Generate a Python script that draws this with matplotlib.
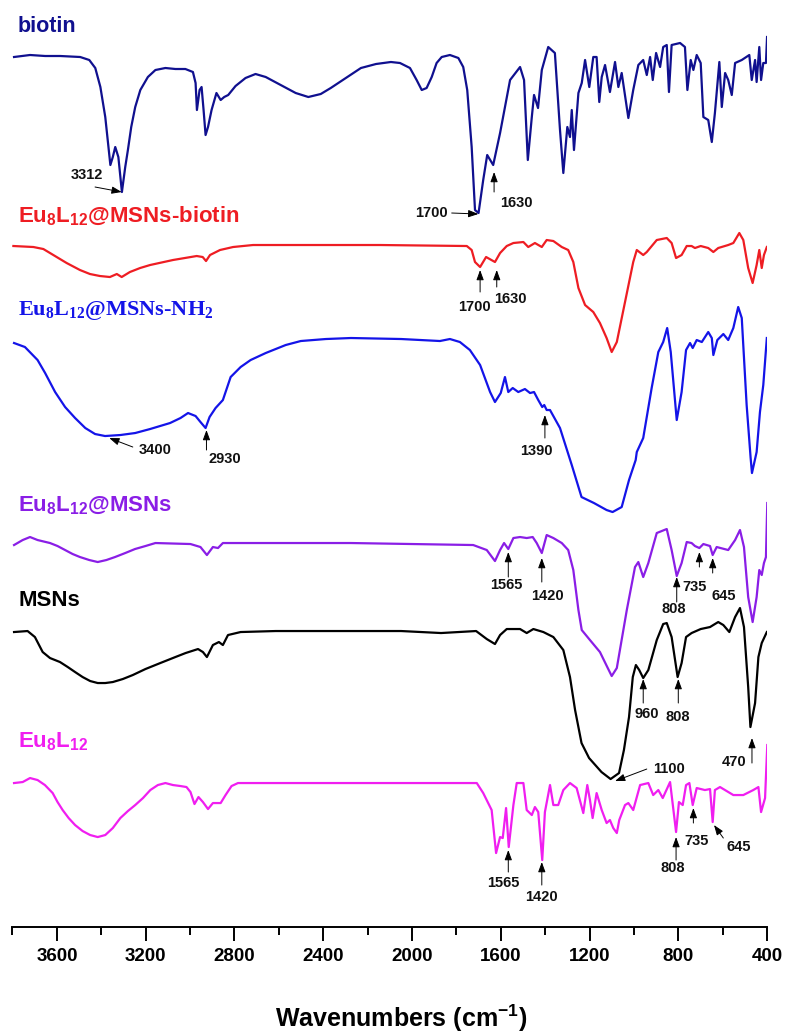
import matplotlib
matplotlib.use('Agg')
import matplotlib.pyplot as plt
from matplotlib.ticker import MultipleLocator

plt.rcParams['font.family'] = ['Liberation Sans', 'DejaVu Sans']
plt.rcParams['font.weight'] = 'bold'
plt.rcParams['mathtext.default'] = 'regular'

# FTIR spectra: wavenumber (cm-1) and stacked transmittance (a.u.)
biotin_wn = [3793, 3721, 3653, 3585, 3495, 3454, 3427, 3404, 3382, 3371,
             3359, 3348, 3337, 3323, 3307, 3292, 3280, 3265, 3247, 3224,
             3190, 3156, 3111, 3066, 3021, 2987, 2975, 2969, 2957, 2948,
             2939, 2930, 2919, 2903, 2881, 2862, 2846, 2828, 2795, 2750,
             2705, 2659, 2592, 2524, 2467, 2411, 2366, 2298, 2230, 2162,
             2095, 2054, 2009, 1979, 1956, 1934, 1911, 1889, 1866, 1829,
             1791, 1769, 1751, 1731, 1716, 1700, 1679, 1661, 1634, 1603,
             1558, 1513, 1495, 1478, 1460, 1450, 1432, 1415, 1386, 1356,
             1333, 1318, 1300, 1288, 1280, 1270, 1250, 1235, 1220, 1201,
             1183, 1168, 1156, 1145, 1130, 1108, 1085, 1070, 1055, 1025,
             1003, 980, 958, 942, 927, 915, 900, 882, 868, 852,
             842, 830, 792, 770, 759, 744, 732, 717, 699, 687,
             665, 649, 635, 615, 604, 589, 575, 559, 544, 514,
             480, 469, 454, 447, 435, 427, 417, 405, 400]
biotin_t = [94.3, 94.5, 94.4, 94.4, 94.3, 94.0, 93.2, 91.3, 88.3, 86.0,
            83.5, 84.3, 85.3, 84.3, 80.8, 83.3, 85.0, 87.3, 89.3, 91.0,
            92.3, 93.0, 93.2, 93.1, 93.1, 92.8, 91.7, 89.0, 91.0, 91.3,
            89.0, 86.5, 87.3, 89.0, 90.7, 90.0, 90.3, 90.5, 91.4, 92.2,
            92.6, 92.3, 91.5, 90.7, 90.3, 90.6, 91.2, 92.2, 93.2, 93.6,
            93.8, 93.7, 93.2, 92.0, 91.0, 91.2, 92.3, 93.7, 94.3, 94.5,
            94.2, 93.3, 91.0, 85.3, 79.0, 78.7, 82.0, 84.5, 83.5, 86.7,
            92.0, 93.3, 92.0, 84.0, 88.3, 90.5, 89.2, 93.0, 95.3, 94.7,
            87.0, 82.7, 87.3, 86.3, 89.0, 85.0, 90.7, 91.7, 94.0, 91.3,
            94.3, 94.3, 89.8, 92.3, 93.5, 90.8, 93.8, 91.3, 92.7, 88.2,
            91.0, 93.5, 94.0, 92.5, 94.3, 92.0, 94.7, 93.3, 95.3, 95.5,
            90.8, 95.5, 95.7, 95.3, 91.0, 94.0, 93.0, 94.5, 93.7, 88.3,
            88.0, 85.8, 88.7, 93.8, 89.3, 92.7, 92.0, 90.5, 93.7, 94.0,
            94.5, 92.0, 94.0, 91.8, 95.3, 92.0, 93.7, 93.7, 96.3]

eu_biotin_wn = [3796, 3706, 3661, 3616, 3556, 3496, 3451, 3406, 3361, 3330,
                3308, 3271, 3225, 3180, 3077, 2970, 2943, 2928, 2910, 2865,
                2806, 2716, 2144, 1753, 1731, 1716, 1693, 1666, 1626, 1603,
                1573, 1543, 1498, 1476, 1446, 1415, 1393, 1363, 1325, 1296,
                1273, 1250, 1220, 1183, 1153, 1123, 1100, 1077, 1040, 1003,
                987, 958, 942, 897, 852, 830, 810, 785, 762, 740,
                725, 699, 665, 642, 620, 575, 552, 525, 507, 485,
                465, 447, 435, 424, 414, 401]
eu_biotin_t = [75.4, 75.3, 75.1, 74.5, 73.7, 73.0, 72.6, 72.4, 72.3, 72.6,
               72.3, 72.8, 73.2, 73.5, 74.0, 74.4, 74.3, 73.9, 74.5, 75.0,
               75.3, 75.5, 75.5, 75.4, 75.0, 73.8, 73.3, 74.3, 73.8, 74.7,
               75.4, 75.7, 75.8, 75.3, 75.7, 75.3, 76.0, 75.9, 75.3, 75.0,
               73.8, 71.2, 69.5, 68.8, 67.7, 66.2, 64.8, 65.8, 69.8, 73.8,
               75.0, 74.5, 74.8, 76.0, 76.2, 75.7, 74.2, 74.5, 75.4, 75.4,
               75.2, 75.4, 75.2, 74.8, 75.2, 75.5, 75.7, 76.7, 76.0, 73.2,
               71.7, 73.5, 75.0, 73.2, 74.5, 75.3]

eu_nh2_wn = [3793, 3744, 3687, 3653, 3608, 3563, 3518, 3472, 3428, 3383,
             3314, 3247, 3180, 3090, 3043, 3009, 2975, 2953, 2930, 2912,
             2885, 2852, 2817, 2772, 2727, 2659, 2569, 2501, 2388, 2275,
             2049, 1874, 1829, 1784, 1739, 1693, 1648, 1626, 1600, 1581,
             1566, 1546, 1521, 1491, 1468, 1450, 1431, 1413, 1404, 1393,
             1378, 1333, 1280, 1236, 1180, 1123, 1096, 1055, 1022, 992,
             987, 958, 920, 890, 868, 850, 834, 807, 785, 765,
             747, 735, 717, 694, 665, 649, 642, 624, 597, 575,
             552, 530, 514, 492, 474, 468, 447, 432, 417, 401]
eu_nh2_t = [65.7, 65.3, 64.0, 62.7, 60.8, 59.3, 58.2, 57.2, 56.6, 56.4,
            56.5, 56.7, 57.1, 57.7, 58.2, 58.7, 58.4, 57.8, 57.2, 58.3,
            59.2, 60.0, 62.3, 63.3, 64.0, 64.7, 65.5, 65.9, 66.1, 66.2,
            66.1, 65.9, 66.1, 65.8, 65.0, 63.5, 60.8, 59.8, 60.7, 62.3,
            60.8, 61.2, 60.8, 61.1, 60.7, 60.8, 60.0, 59.3, 59.5, 59.0,
            59.0, 57.2, 53.5, 50.3, 49.7, 49.0, 48.8, 49.3, 52.0, 54.0,
            54.8, 56.2, 61.2, 64.8, 65.8, 67.2, 64.8, 58.0, 60.8, 65.0,
            65.7, 65.2, 66.0, 65.8, 66.8, 66.2, 64.5, 66.0, 66.6, 66.0,
            67.2, 69.3, 68.2, 59.5, 54.2, 52.7, 54.8, 58.8, 61.5, 66.2]

eu_msn_wn = [3793, 3754, 3721, 3687, 3631, 3597, 3563, 3529, 3496, 3454,
             3416, 3377, 3338, 3292, 3248, 3201, 3156, 2998, 2953, 2924,
             2897, 2874, 2852, 2275, 1724, 1663, 1626, 1603, 1585, 1566,
             1543, 1513, 1483, 1456, 1438, 1415, 1393, 1363, 1325, 1296,
             1273, 1250, 1235, 1198, 1153, 1120, 1100, 1077, 1032, 995,
             980, 958, 935, 897, 852, 830, 807, 785, 762, 740,
             725, 705, 687, 657, 645, 627, 575, 544, 522, 504,
             485, 465, 447, 435, 424, 414, 405, 399]
eu_msn_t = [45.5, 46.0, 46.3, 46.0, 45.7, 45.4, 45.0, 44.6, 44.3, 44.0,
            43.8, 44.0, 44.3, 44.7, 45.1, 45.4, 45.7, 45.6, 45.3, 44.5,
            45.3, 45.2, 45.7, 45.7, 45.5, 45.0, 43.9, 45.0, 45.7, 45.1,
            46.2, 46.3, 46.2, 46.3, 45.7, 44.7, 46.5, 46.2, 45.7, 45.0,
            43.0, 39.0, 37.0, 36.0, 34.8, 33.3, 32.4, 33.2, 39.0, 43.3,
            43.8, 42.3, 43.7, 46.7, 47.1, 45.0, 42.4, 43.7, 45.8, 45.7,
            45.4, 45.2, 45.6, 45.4, 44.5, 45.3, 45.0, 46.0, 47.0, 45.3,
            40.3, 37.8, 40.3, 43.0, 42.5, 43.7, 44.3, 49.7]

msn_wn = [3793, 3732, 3699, 3664, 3631, 3586, 3551, 3518, 3484, 3450,
          3416, 3382, 3348, 3303, 3258, 3201, 3134, 3066, 3020, 2964,
          2942, 2924, 2897, 2870, 2852, 2829, 2772, 2614, 2366, 2049,
          1869, 1711, 1663, 1626, 1603, 1573, 1513, 1483, 1453, 1408,
          1363, 1318, 1288, 1265, 1236, 1202, 1146, 1105, 1067, 1045,
          1022, 1005, 991, 976, 958, 935, 897, 868, 852, 830,
          803, 785, 765, 740, 699, 657, 635, 620, 597, 570,
          544, 522, 504, 485, 475, 454, 439, 424, 401]
msn_t = [36.8, 36.9, 36.3, 34.8, 34.2, 33.8, 33.3, 32.8, 32.3, 31.9,
         31.7, 31.7, 31.8, 32.1, 32.5, 33.1, 33.7, 34.3, 34.7, 35.1,
         34.8, 34.3, 35.5, 35.8, 35.5, 36.5, 36.8, 36.9, 36.9, 36.9,
         36.7, 36.9, 36.1, 35.6, 36.5, 37.1, 37.1, 36.7, 37.1, 36.8,
         36.3, 35.0, 32.3, 29.0, 25.7, 24.2, 22.8, 22.1, 22.7, 25.0,
         28.3, 32.3, 33.5, 33.0, 32.2, 33.0, 36.0, 37.6, 37.7, 36.3,
         32.3, 33.7, 36.3, 36.7, 37.1, 37.3, 37.6, 37.8, 37.5, 36.8,
         38.3, 39.2, 37.3, 31.3, 27.3, 29.7, 34.3, 35.7, 36.8]

eu_wn = [3793, 3754, 3721, 3687, 3654, 3619, 3597, 3574, 3547, 3518,
         3484, 3450, 3416, 3382, 3348, 3314, 3280, 3247, 3212, 3179,
         3145, 3111, 3077, 3043, 3016, 2998, 2980, 2962, 2942, 2919,
         2897, 2862, 2840, 2813, 2784, 2366, 1734, 1708, 1679, 1641,
         1621, 1603, 1591, 1576, 1564, 1543, 1528, 1513, 1498, 1483,
         1460, 1446, 1431, 1413, 1401, 1378, 1363, 1341, 1318, 1288,
         1258, 1228, 1210, 1198, 1186, 1168, 1145, 1123, 1108, 1093,
         1077, 1066, 1040, 1025, 1003, 972, 935, 913, 890, 870,
         837, 810, 797, 780, 765, 750, 735, 717, 680, 657,
         645, 635, 612, 552, 507, 462, 439, 427, 409, 399]
eu_t = [21.7, 21.8, 22.2, 22.0, 21.5, 20.7, 19.8, 19.0, 18.2, 17.5,
        16.9, 16.5, 16.3, 16.5, 17.2, 18.2, 18.9, 19.5, 20.2, 21.0,
        21.5, 21.7, 21.5, 21.4, 21.3, 20.8, 19.6, 20.3, 19.8, 19.1,
        19.7, 19.7, 20.5, 21.4, 21.7, 21.7, 21.7, 21.7, 20.7, 19.0,
        14.7, 16.3, 16.2, 19.2, 15.3, 19.5, 21.7, 21.7, 21.7, 19.0,
        18.5, 19.3, 18.8, 14.0, 18.8, 21.5, 19.5, 19.5, 21.0, 21.7,
        21.2, 18.7, 21.5, 20.0, 18.2, 20.7, 19.0, 17.7, 18.0, 17.2,
        16.7, 18.0, 19.5, 19.7, 19.0, 21.5, 21.7, 20.5, 21.0, 20.2,
        21.8, 16.8, 19.8, 19.5, 21.5, 21.7, 19.5, 21.2, 21.0, 21.1,
        17.8, 21.0, 21.3, 20.5, 20.5, 21.0, 21.3, 18.8, 20.2, 25.5]

spectra = [
    (biotin_wn, biotin_t, '#10108f'),
    (eu_biotin_wn, eu_biotin_t, '#ee1d23'),
    (eu_nh2_wn, eu_nh2_t, '#1414e8'),
    (eu_msn_wn, eu_msn_t, '#8a1ee6'),
    (msn_wn, msn_t, 'black'),
    (eu_wn, eu_t, '#f01ef0'),
]

# sample names: text, x, y, colour, family, size
names = [
    ('biotin', 3775, 97.4, '#10108f', 'Liberation Sans', 15.5),
    ('Eu$_{8}$L$_{12}$@MSNs-biotin', 3775, 78.4, '#ee1d23', 'Liberation Sans', 16),
    ('Eu$_{8}$L$_{12}$@MSNs-NH$_{2}$', 3775, 69.0, '#1414e8', 'Liberation Serif', 16),
    ('Eu$_{8}$L$_{12}$@MSNs', 3775, 49.4, '#8a1ee6', 'Liberation Sans', 16),
    ('MSNs', 3775, 40.0, 'black', 'Liberation Sans', 16),
    ('Eu$_{8}$L$_{12}$', 3775, 25.8, '#f01ef0', 'Liberation Sans', 16),
]

# peak marks: label, arrow tip, arrow tail, label position, alignment
peaks = [
    ('3312', (3308, 80.8), (3428, 81.3), (3466, 82.5), 'center'),
    ('1700', (1701, 78.6), (1821, 78.7), (1914, 78.75), 'center'),
    ('1630', (1630, 82.8), (1630, 80.8), (1531, 79.75), 'center'),
    ('1700', (1693, 73.0), (1693, 70.8), (1719, 69.3), 'center'),
    ('1630', (1618, 73.0), (1618, 71.3), (1558, 70.1), 'center'),
    ('3400', (3364, 56.2), (3258, 55.3), (3156, 55.0), 'center'),
    ('2930', (2926, 57.0), (2926, 55.0), (2919, 54.1), 'left'),
    ('1390', (1401, 58.5), (1401, 56.2), (1438, 54.9), 'center'),
    ('1565', (1566, 44.8), (1566, 42.3), (1573, 41.5), 'center'),
    ('1420', (1415, 44.2), (1415, 41.8), (1388, 40.4), 'center'),
    ('808', (807, 42.3), (807, 39.8), (822, 39.1), 'center'),
    ('735', (705, 44.8), (705, 43.3), (725, 41.3), 'center'),
    ('645', (645, 44.2), (645, 42.7), (597, 40.4), 'center'),
    ('960', (958, 32.1), (958, 29.7), (942, 28.6), 'center'),
    ('808', (800, 32.1), (800, 29.7), (803, 28.3), 'center'),
    ('470', (468, 26.2), (468, 23.7), (495, 23.8), 'right'),
    ('1100', (1085, 21.9), (942, 23.1), (913, 23.1), 'left'),
    ('1565', (1566, 15.0), (1566, 12.8), (1588, 11.7), 'center'),
    ('1420', (1415, 13.8), (1415, 11.5), (1417, 10.3), 'center'),
    ('808', (810, 16.3), (810, 14.0), (825, 13.2), 'center'),
    ('735', (732, 19.2), (732, 17.7), (717, 15.9), 'center'),
    ('645', (639, 17.5), (597, 16.2), (529, 15.3), 'center'),
]

fig = plt.figure(figsize=(7.86, 10.35), dpi=100)
ax = fig.add_axes([0.0159, 0.1043, 0.96, 0.8957])

for wn, t, c in spectra:
    ax.plot(wn, t, color=c, lw=1.6, solid_joinstyle='round')

for text, x, y, c, fam, size in names:
    ax.text(x, y, text, color=c, fontsize=size, fontweight='bold',
            family=[fam, 'DejaVu Sans'], va='center', ha='left')

for lab, tip, tail, pos, ha in peaks:
    ax.annotate('', xy=tip, xytext=tail,
                arrowprops=dict(arrowstyle='-|>,head_length=0.6,head_width=0.22',
                                color='black', lw=0.7, mutation_scale=10,
                                shrinkA=0, shrinkB=0))
    ax.text(pos[0], pos[1], lab, fontsize=10.5, fontweight='bold',
            ha=ha, va='center', color='#111111')

ax.set_xlim(3800, 400)
ax.set_ylim(7.3, 100)
ax.xaxis.set_major_locator(MultipleLocator(400))
ax.xaxis.set_minor_locator(MultipleLocator(200))
ax.tick_params(axis='x', which='major', length=10, width=1.4, labelsize=13.5, pad=5)
ax.tick_params(axis='x', which='minor', length=6, width=1.4)
for lbl in ax.get_xticklabels():
    lbl.set_fontweight('bold')
for s in ['left', 'right', 'top']:
    ax.spines[s].set_visible(False)
ax.spines['bottom'].set_linewidth(1.4)
ax.set_yticks([])
ax.patch.set_alpha(0)

fig.text(0.511, 0.0075, 'Wavenumbers (cm$^{-1}$)', fontsize=18, fontweight='bold',
         ha='center', va='baseline')

fig.savefig('out.png', dpi=100)
